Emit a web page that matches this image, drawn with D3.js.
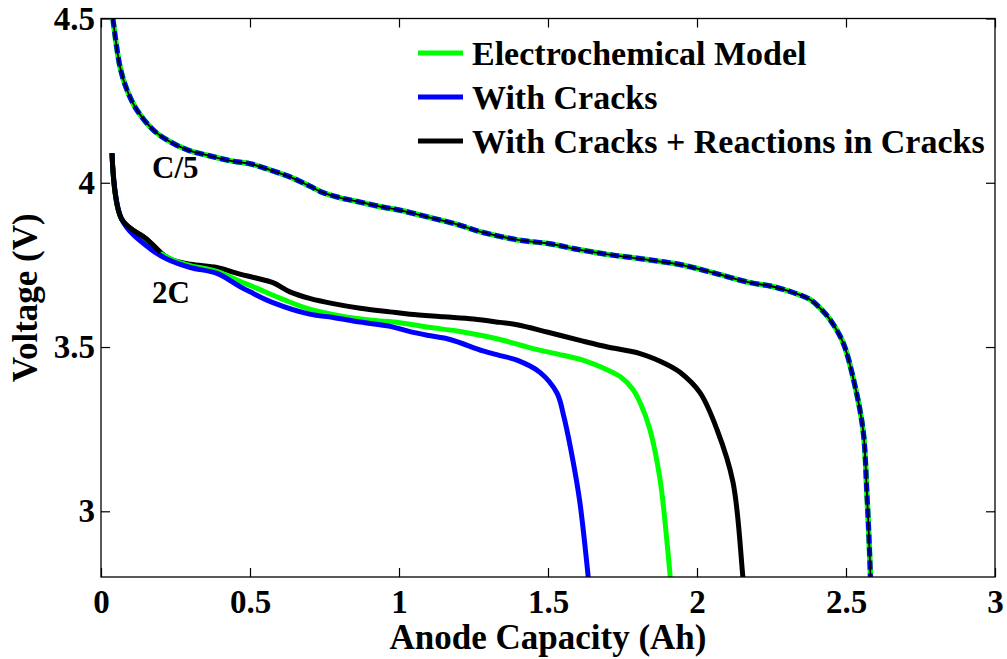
<!DOCTYPE html>
<html>
<head>
<meta charset="utf-8">
<script src="https://cdn.jsdelivr.net/npm/d3@7"></script>
<style>
  html, body { margin: 0; padding: 0; background: #fff; }
  svg { display: block; }
</style>
</head>
<body>
<svg id="chart" width="1007" height="659"></svg>
<script>
// Discharge curves: voltage vs anode capacity
const xTicks = [0, 0.5, 1, 1.5, 2, 2.5, 3];
const xTickLabels = ["0", "0.5", "1", "1.5", "2", "2.5", "3"];
const yTicks = [3, 3.5, 4, 4.5];
const yTickLabels = ["3", "3.5", "4", "4.5"];

const seriesNames = ["Electrochemical Model", "With Cracks", "With Cracks + Reactions in Cracks"];
const seriesColors = ["#00ff00", "#0000ff", "#000000"];

// C/5 rate (all three models coincide)
const c5Capacity = [0.040,0.064,0.087,0.12,0.175,0.22,0.29,0.36,0.44,0.50,0.557,0.634,0.70,0.745,0.80,0.86,0.94,1.00,1.10,1.20,1.272,1.40,1.50,1.607,1.70,1.80,1.943,2.05,2.178,2.25,2.322,2.379,2.42,2.446,2.49,2.523,2.557,2.57,2.578,2.584];
const c5Voltage  = [4.50,4.352,4.283,4.222,4.161,4.131,4.100,4.083,4.066,4.058,4.042,4.018,3.99,3.97,3.955,3.943,3.927,3.917,3.895,3.872,3.851,3.826,3.815,3.796,3.782,3.770,3.751,3.727,3.696,3.685,3.666,3.645,3.612,3.584,3.514,3.41,3.249,3.057,2.90,2.75];

// 2C rate, Electrochemical Model
const c2ModelCapacity = [0.037,0.07,0.154,0.20,0.25,0.30,0.389,0.466,0.52,0.611,0.70,0.80,0.90,1.003,1.10,1.20,1.339,1.45,1.55,1.617,1.70,1.742,1.785,1.809,1.842,1.876,1.90,1.91,1.913];
const c2ModelVoltage  = [4.09,3.888,3.826,3.785,3.762,3.748,3.730,3.700,3.680,3.645,3.615,3.595,3.582,3.574,3.560,3.548,3.523,3.495,3.475,3.460,3.430,3.410,3.371,3.331,3.249,3.097,2.90,2.80,2.75];

// 2C rate, With Cracks
const c2CracksCapacity = [0.037,0.07,0.164,0.221,0.30,0.389,0.466,0.50,0.577,0.70,0.779,0.87,0.97,1.037,1.10,1.171,1.282,1.339,1.396,1.473,1.53,1.553,1.585,1.607,1.635,1.64];
const c2CracksVoltage  = [4.09,3.888,3.800,3.768,3.742,3.724,3.684,3.668,3.635,3.600,3.590,3.576,3.563,3.547,3.535,3.523,3.488,3.474,3.460,3.423,3.36,3.289,3.148,3.027,2.80,2.75];

// 2C rate, With Cracks + Reactions in Cracks
const c2ReactCapacity = [0.037,0.07,0.154,0.20,0.232,0.30,0.389,0.466,0.52,0.577,0.634,0.70,0.779,0.87,0.97,1.037,1.15,1.25,1.339,1.396,1.50,1.617,1.70,1.809,1.899,1.943,2.01,2.067,2.121,2.154,2.16];
const c2ReactVoltage  = [4.09,3.888,3.828,3.788,3.768,3.752,3.742,3.722,3.710,3.696,3.668,3.648,3.632,3.618,3.607,3.600,3.592,3.585,3.575,3.568,3.545,3.518,3.500,3.480,3.447,3.423,3.361,3.249,3.088,2.80,2.75];

const FONT = "'Liberation Serif', 'DejaVu Serif', 'Noto Serif', serif";

const svg = d3.select("#chart");
const L = 101, R = 995, T = 18.5, B = 577;

const x = d3.scaleLinear().domain([0, 3]).range([L, R]);
const y = d3.scaleLinear().domain([2.8, 4.5]).range([B, T]);

const zip = (xs, ys) => xs.map((v, i) => [v, ys[i]]);
const line = d3.line().x(d => x(d[0])).y(d => y(d[1])).curve(d3.curveCatmullRom.alpha(0.5));

svg.append("defs").append("clipPath").attr("id", "plotClip")
  .append("rect").attr("x", L).attr("y", T).attr("width", R - L).attr("height", B - T);

const plot = svg.append("g").attr("clip-path", "url(#plotClip)");

// C/5: three overlapping model curves
const c5 = zip(c5Capacity, c5Voltage);
plot.append("path").attr("d", line(c5)).attr("fill", "none")
  .attr("stroke", seriesColors[0]).attr("stroke-width", 5.5);
plot.append("path").attr("d", line(c5)).attr("fill", "none")
  .attr("stroke", seriesColors[1]).attr("stroke-width", 5).attr("stroke-dasharray", "9,4");
plot.append("path").attr("d", line(c5)).attr("fill", "none")
  .attr("stroke", seriesColors[2]).attr("stroke-width", 1.8);

// 2C curves
[[c2ReactCapacity, c2ReactVoltage, 2], [c2ModelCapacity, c2ModelVoltage, 0], [c2CracksCapacity, c2CracksVoltage, 1]]
  .forEach(([cx, cy, k]) => {
    plot.append("path").attr("d", line(zip(cx, cy))).attr("fill", "none")
      .attr("stroke", seriesColors[k]).attr("stroke-width", 5)
      .attr("stroke-linejoin", "round");
  });
// the black curve lies on top where the three coincide at the start
plot.append("path").attr("d", line(zip(c2ReactCapacity.slice(0, 4), c2ReactVoltage.slice(0, 4))))
  .attr("fill", "none").attr("stroke", "#000").attr("stroke-width", 5);

// Axes box with inward ticks
const axes = svg.append("g");
axes.append("rect").attr("x", L).attr("y", T).attr("width", R - L).attr("height", B - T)
  .attr("fill", "none").attr("stroke", "#000").attr("stroke-width", 1.3);

const bottomAxis = d3.axisBottom(x).tickValues(xTicks).tickSize(-9).tickFormat((d, i) => xTickLabels[i]).tickPadding(13);
const topAxis = d3.axisTop(x).tickValues(xTicks).tickSize(-9).tickFormat("");
const leftAxis = d3.axisLeft(y).tickValues(yTicks).tickSize(-9).tickFormat((d, i) => yTickLabels[i]).tickPadding(6);
const rightAxis = d3.axisRight(y).tickValues(yTicks).tickSize(-9).tickFormat("");

function styleAxis(g) {
  g.attr("font-family", FONT).attr("font-size", 33);
  g.select(".domain").remove();
  g.selectAll(".tick line").attr("stroke", "#000").attr("stroke-width", 1.2);
  g.selectAll(".tick text").attr("fill", "#000").attr("font-weight", "bold")
    .attr("font-family", FONT).attr("font-size", 33);
}
axes.append("g").attr("transform", `translate(0,${B})`).call(bottomAxis).call(styleAxis);
axes.append("g").attr("transform", `translate(0,${T})`).call(topAxis).call(styleAxis);
axes.append("g").attr("transform", `translate(${L},0)`).call(leftAxis).call(styleAxis);
axes.append("g").attr("transform", `translate(${R},0)`).call(rightAxis).call(styleAxis);

function label(sel, size) {
  return sel.attr("font-family", FONT).attr("font-weight", "bold").attr("font-size", size).attr("fill", "#000");
}

// Axis titles
label(svg.append("text"), 35).attr("x", (L + R) / 2).attr("y", 649).attr("text-anchor", "middle")
  .text("Anode Capacity (Ah)");
label(svg.append("text"), 35).attr("transform", `translate(37,${(T + B) / 2}) rotate(-90)`).attr("text-anchor", "middle")
  .text("Voltage (V)");

// Rate annotations
label(svg.append("text"), 31).attr("x", 152).attr("y", 178).text("C/5");
label(svg.append("text"), 31).attr("x", 152).attr("y", 303).text("2C");

// Legend
const legend = svg.append("g");
seriesNames.forEach((name, i) => {
  const ly = 53 + i * 44;
  legend.append("line").attr("x1", 418).attr("x2", 463).attr("y1", ly).attr("y2", ly)
    .attr("stroke", seriesColors[i]).attr("stroke-width", 5);
  label(legend.append("text"), 34).attr("x", 472).attr("y", ly + 12).text(name);
});
</script>
</body>
</html>
